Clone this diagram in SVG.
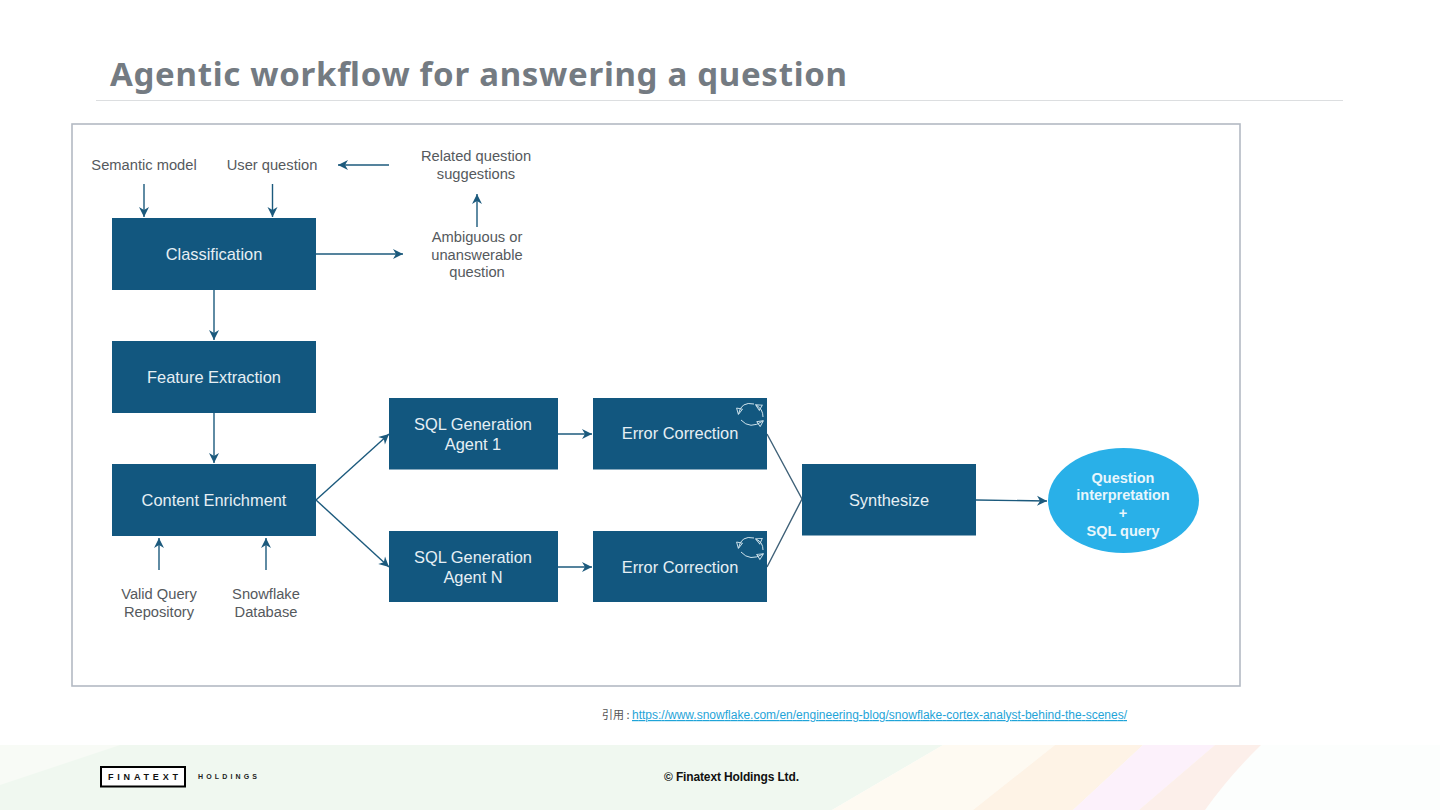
<svg xmlns="http://www.w3.org/2000/svg" width="1440" height="810" viewBox="0 0 1440 810">
<style>
.s{font-family:"Liberation Sans",Arial,sans-serif}
.box{fill:#12577f}
.bt{font-size:16.400px;fill:#e6eff4;text-anchor:middle}
.lb{font-size:14.700px;fill:#55595d;text-anchor:middle}
.cn{fill:none;stroke:#1c5a7d;stroke-width:1.4;marker-end:url(#a)}
.ln{fill:none;stroke:#3f6178;stroke-width:1.4}
.lp{fill:none;stroke:#cfe3ec;stroke-width:1}
.la{fill:none;stroke:#cfe3ec;stroke-width:1;marker-end:url(#w)}
</style>
<defs>
<marker id="a" viewBox="0 0 12 12" refX="11" refY="6" markerWidth="12" markerHeight="12" markerUnits="userSpaceOnUse" orient="auto"><path d="M1 1L11 6L1 11L4 6Z" fill="#1c5a7d"/></marker>
<marker id="w" viewBox="0 0 8 8" refX="6.500" refY="4" markerWidth="8" markerHeight="8" markerUnits="userSpaceOnUse" orient="auto"><path d="M1 1L7 4L1 7Z" fill="none" stroke="#cfe3ec" stroke-width="0.9"/></marker>
</defs>
<rect width="1440" height="810" fill="#fff"/>
<g id="footer-bg">
<rect y="745" width="1440" height="65" fill="#fcfefd"/>
<path d="M0 745H943L832 810H0Z" fill="#f0f8f0"/>
<path d="M0 745H120L0 785Z" fill="#f8fbf6"/>
<path d="M943 745H1055L973 810H832Z" fill="#fefaf2"/>
<path d="M1055 745H1143L1073 810H973Z" fill="#fef3e6"/>
<path d="M1143 745H1215L1139 810H1073Z" fill="#fcf1fb"/>
<path d="M1215 745H1261Q1230 775 1205 810H1139Z" fill="#fcefea"/>
</g>
<g id="title">
<text x="110" y="86" style="font-family:'Noto Sans',sans-serif" font-size="33" font-weight="700" fill="#747b82" textLength="737" lengthAdjust="spacing">Agentic workflow for answering a question</text>
<line x1="96" y1="100.500" x2="1343" y2="100.500" stroke="#dcdee0" stroke-width="1"/>
</g>
<rect id="frame" x="72" y="124" width="1168" height="562" fill="#fff" stroke="#b3bac3" stroke-width="1.600"/>
<g id="connectors">
<path class="cn" d="M144 184V217"/>
<path class="cn" d="M272.500 184V217"/>
<path class="cn" d="M389 165H338"/>
<path class="cn" d="M477 227V194"/>
<path class="cn" d="M316 254H403"/>
<path class="cn" d="M214 290V340"/>
<path class="cn" d="M214 413V463"/>
<path class="cn" d="M159 570V538"/>
<path class="cn" d="M266 570V538"/>
<path class="cn" d="M316 500L389 434"/>
<path class="cn" d="M316 500L389 567"/>
<path class="cn" d="M558 434H592"/>
<path class="cn" d="M558 567H592"/>
<path class="ln" d="M767 434L802 499L767 567"/>
<path class="cn" d="M976 500L1047 501"/>
</g>
<g id="n-semantic"><text class="s lb" x="144" y="170">Semantic model</text></g>
<g id="n-user"><text class="s lb" x="272" y="170">User question</text></g>
<g id="n-related"><text class="s lb" x="476" y="161">Related question</text><text class="s lb" x="476" y="179">suggestions</text></g>
<g id="n-ambiguous"><text class="s lb" x="477" y="242">Ambiguous or</text><text class="s lb" x="477" y="260">unanswerable</text><text class="s lb" x="477" y="277">question</text></g>
<g id="n-classification"><rect class="box" x="112" y="218" width="204" height="72"/><text class="s bt" x="214" y="260">Classification</text></g>
<g id="n-feature"><rect class="box" x="112" y="341" width="204" height="72"/><text class="s bt" x="214" y="383">Feature Extraction</text></g>
<g id="n-content"><rect class="box" x="112" y="464" width="204" height="72"/><text class="s bt" x="214" y="506">Content Enrichment</text></g>
<g id="n-valid"><text class="s lb" x="159" y="599">Valid Query</text><text class="s lb" x="159" y="617">Repository</text></g>
<g id="n-snowflake"><text class="s lb" x="266" y="599">Snowflake</text><text class="s lb" x="266" y="617">Database</text></g>
<g id="n-sql1"><rect class="box" x="389" y="398" width="169" height="71.500"/><text class="s bt" x="473" y="430">SQL Generation</text><text class="s bt" x="473" y="450">Agent 1</text></g>
<g id="n-sqln"><rect class="box" x="389" y="531" width="169" height="71"/><text class="s bt" x="473" y="563">SQL Generation</text><text class="s bt" x="473" y="583">Agent N</text></g>
<g id="n-err1"><rect class="box" x="593" y="398" width="174" height="71.500"/><text class="s bt" x="680" y="439">Error Correction</text>
<path class="la" d="M754 404Q741 401 738.500 414"/><path class="la" d="M741 420Q750 430 763 421"/><path class="la" d="M763 417Q763 409 756 405"/></g>
<g id="n-errn"><rect class="box" x="593" y="531" width="174" height="71"/><text class="s bt" x="680" y="572.500">Error Correction</text>
<path class="la" d="M754 538Q741 535 738.500 548"/><path class="la" d="M741 552Q750 562 763 554"/><path class="la" d="M763 550Q763 542 756 539"/></g>
<g id="n-synth"><rect class="box" x="802" y="464" width="174" height="71.500"/><text class="s bt" x="889" y="506">Synthesize</text></g>
<g id="n-result"><ellipse cx="1123.500" cy="500.500" rx="75.500" ry="52.500" fill="#29b0e8"/>
<g font-size="14.500" font-weight="700" fill="#e8f6fc" text-anchor="middle" class="s"><text x="1123" y="483">Question</text><text x="1123" y="500">interpretation</text><text x="1123" y="518">+</text><text x="1123" y="536">SQL query</text></g></g>
<g id="citation">
<text x="602" y="719" font-size="11" fill="#555" style="font-family:'Noto Sans CJK JP',sans-serif">引用 :</text>
<text class="s" x="632" y="719" font-size="12" fill="#1fa4d8" text-decoration="underline" textLength="495" lengthAdjust="spacing">https://www.snowflake.com/en/engineering-blog/snowflake-cortex-analyst-behind-the-scenes/</text>
</g>
<g id="logo">
<rect x="101" y="767" width="84" height="19.500" fill="#fff" stroke="#000" stroke-width="2"/>
<text class="s" x="108" y="780" font-size="9" font-weight="700" fill="#111" textLength="70">FINATEXT</text>
<text class="s" x="198" y="779" font-size="7" font-weight="700" fill="#222" textLength="59">HOLDINGS</text>
</g>
<text id="copyright" class="s" x="664" y="781" font-size="12" font-weight="700" fill="#111" textLength="135">© Finatext Holdings Ltd.</text>
</svg>
